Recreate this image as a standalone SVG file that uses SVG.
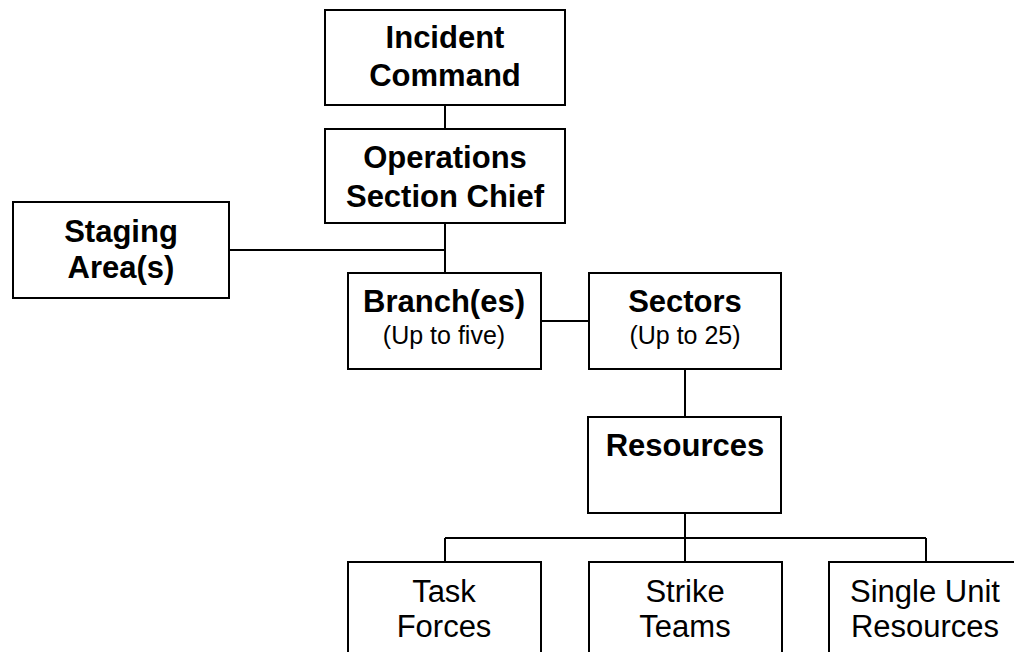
<svg xmlns="http://www.w3.org/2000/svg" width="1014" height="652" viewBox="0 0 1014 652">
<style>
rect{fill:#fff;stroke:#000;stroke-width:2}
.c line{stroke:#000;stroke-width:2}
text{font-family:"Liberation Sans",Arial,sans-serif;text-anchor:middle;fill:#000}
.b{font-weight:bold;font-size:31px}
.s{font-size:25px}
.r{font-size:31px}
</style>
<rect width="1014" height="652" style="fill:#fff;stroke:none"/>
<g class="c">
<line x1="445" y1="105" x2="445" y2="129"/>
<line x1="445" y1="223" x2="445" y2="273"/>
<line x1="229" y1="250" x2="445" y2="250"/>
<line x1="541" y1="321" x2="589" y2="321"/>
<line x1="685" y1="369" x2="685" y2="417"/>
<line x1="685" y1="513" x2="685" y2="562"/>
<line x1="445" y1="538" x2="926" y2="538"/>
<line x1="445" y1="538" x2="445" y2="562"/>
<line x1="926" y1="538" x2="926" y2="562"/>
</g>
<g id="incident"><rect x="325" y="10" width="240" height="95"/><text class="b" x="445" y="48">Incident</text><text class="b" x="445" y="86">Command</text></g>
<g id="operations"><rect x="325" y="129" width="240" height="94"/><text class="b" x="445" y="168">Operations</text><text class="b" x="445" y="207">Section Chief</text></g>
<g id="staging"><rect x="13" y="202" width="216" height="96"/><text class="b" x="121" y="242">Staging</text><text class="b" x="121" y="278">Area(s)</text></g>
<g id="branch"><rect x="348" y="273" width="193" height="96"/><text class="b" x="444" y="312">Branch(es)</text><text class="s" x="444" y="344">(Up to five)</text></g>
<g id="sectors"><rect x="589" y="273" width="192" height="96"/><text class="b" x="685" y="312">Sectors</text><text class="s" x="685" y="344">(Up to 25)</text></g>
<g id="resources"><rect x="588" y="417" width="193" height="96"/><text class="b" x="685" y="456">Resources</text></g>
<g id="task"><rect x="348" y="562" width="193" height="100"/><text class="r" x="444" y="602">Task</text><text class="r" x="444" y="637">Forces</text></g>
<g id="strike"><rect x="589" y="562" width="193" height="100"/><text class="r" x="685" y="602">Strike</text><text class="r" x="685" y="637">Teams</text></g>
<g id="single"><rect x="829" y="562" width="193" height="100"/><text class="r" x="925" y="602">Single Unit</text><text class="r" x="925" y="637">Resources</text></g>
</svg>
